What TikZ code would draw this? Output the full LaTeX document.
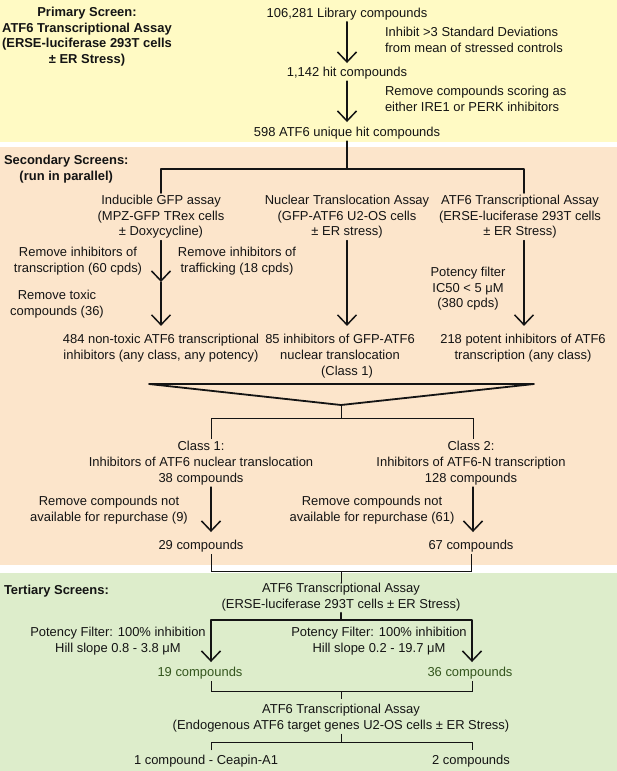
\documentclass[tikz,border=0pt]{standalone}
\usepackage{fontspec}
\setmainfont{Liberation Sans}
\usetikzlibrary{arrows.meta}
\definecolor{bgyellow}{RGB}{255,250,196}
\definecolor{bgpeach}{RGB}{252,229,203}
\definecolor{bggreen}{RGB}{221,237,203}
\definecolor{txtgreen}{RGB}{52,86,30}
\definecolor{ink}{RGB}{20,20,20}
\begin{document}
\begin{tikzpicture}[x=1bp,y=-1bp,
  txt/.style={inner sep=0pt, outer sep=0pt, align=center, text=ink,
    font=\fontsize{13}{15.8}\selectfont,
    execute at begin node=\strut, execute at end node=\strut},
  bold/.style={txt, font=\fontsize{13}{15.8}\selectfont\bfseries},
  ln/.style={draw=ink, line width=1.5bp, line cap=round, line join=round},
  thinln/.style={draw=ink, line width=1bp},
  hair/.style={draw=ink, line width=0.8bp},
  arr/.style={ln, -{Straight Barb[length=10bp,width=19bp]}},
]
\fill[white] (0,0) rectangle (617,771);
\useasboundingbox (0,0) rectangle (617,771);
\fill[bgyellow] (0,0) rectangle (617,142);
\fill[bgpeach] (0,147) rectangle (617,565);
\fill[bggreen] (0,572.5) rectangle (617,771);

% ---------- primary ----------
\node[bold] (prim) at (87,37.7) {Primary Screen:\\ATF6 Transcriptional Assay\\(ERSE-luciferase 293T cells\\± ER Stress)};
\node[txt] (lib) at (347,14) {106,281 Library compounds};
\node[txt, align=left, anchor=west] (n1) at (385,42.2) {Inhibit >3 Standard Deviations\\from mean of stressed controls};
\node[txt] (hit) at (347,73.3) {1,142 hit compounds};
\node[txt, align=left, anchor=west] (n2) at (385,101.3) {Remove compounds scoring as\\either IRE1 or PERK inhibitors};
\node[txt] (uniq) at (347,133.3) {598 ATF6 unique hit compounds};
\draw[arr, shorten >=2.4bp] (lib) -- (hit);
\draw[arr, shorten >=3.4bp] (hit) -- (uniq);

% ---------- secondary ----------
\node[bold, anchor=west] (sec) at (4,170.3) {Secondary Screens:\\(run in parallel)};
\coordinate (tb) at (347,169);
\coordinate (colA) at (161,169);
\coordinate (colC) at (524,169);
\draw[ln] (uniq) -- (tb);
\node[txt] (h1) at (161,217.8) {Inducible GFP assay\\(MPZ-GFP TRex cells\\± Doxycycline)};
\node[txt] (h2) at (347,217.8) {Nuclear Translocation Assay\\(GFP-ATF6 U2-OS cells\\± ER stress)};
\node[txt] (h3) at (520,217.8) {ATF6 Transcriptional Assay\\(ERSE-luciferase 293T cells\\± ER Stress)};
\draw[ln, shorten <=2bp, shorten >=2bp] (h1.north) -- (colA) -- (colC) -- (h3.north -| colC);

\node[txt] (lab1) at (78,261.8) {Remove inhibitors of\\transcription (60 cpds)};
\node[txt] (lab2) at (237,261.8) {Remove inhibitors of\\trafficking (18 cpds)};
\node[txt] (lab3) at (57,304.8) {Remove toxic\\compounds (36)};
\node[txt] (lab4) at (468,289.8) {Potency filter\\IC50 < 5 μM\\(380 cpds)};

\node[txt] (r1) at (161,348.8) {484 non-toxic ATF6 transcriptional\\inhibitors (any class, any potency)};
\node[txt] (r2) at (340,357.3) {85 inhibitors of GFP-ATF6\\nuclear translocation\\\hspace*{14bp}(Class 1)};
\node[txt] (r3) at (523,348.8) {218 potent inhibitors of ATF6\\transcription (any class)};

\coordinate (mid1) at (161,282);
\draw[arr] (h1.south) -- (mid1);
\draw[arr, shorten >=8bp] (mid1) -- (r1.north);
\draw[arr, shorten >=8.6bp] (h2.south) -- (h2.south |- r2.north);
\draw[arr, shorten >=8bp] (h3.south -| colC) -- (r3.north -| colC);

% funnel
\coordinate (tL) at (149,384);
\coordinate (tR) at (534,384);
\coordinate (tA) at (341,405);
\draw[ln, line width=1.8bp] (tL) -- (tR) -- (tA) -- cycle;

\coordinate (bl) at (211,418);
\coordinate (br) at (473,418);
\coordinate (bm) at (341,418);
\draw[thinln] (tA) -- (bm);
\node[txt] (c1) at (201,464.3) {Class 1:\\Inhibitors of ATF6 nuclear translocation\\38 compounds};
\node[txt] (c2) at (471,464.3) {Class 2:\\Inhibitors of ATF6-N transcription\\128 compounds};
\draw[thinln, shorten <=2.5bp, shorten >=2.5bp] (c1.north -| bl) -- (bl) -- (br) -- (c2.north -| br);

\node[txt] (lab5) at (109,510.8) {Remove compounds not\\available for repurchase (9)};
\node[txt] (lab6) at (372,510.8) {Remove compounds not\\available for repurchase (61)};
\node[txt] (d1) at (201,546.3) {29 compounds};
\node[txt] (d2) at (471,546.3) {67 compounds};
\draw[arr, shorten >=6.4bp] (c1.south -| bl) -- (d1.north -| bl);
\draw[arr, shorten >=6.4bp] (c2.south -| br) -- (d2.north -| br);

\coordinate (k1) at (211,571);
\coordinate (k2) at (471,571);
\coordinate (k3) at (341,571);
\draw[thinln] (d1.south -| k1) -- (k1) -- (k2) -- (d2.south -| k2);

% ---------- tertiary ----------
\node[bold, anchor=west] (ter) at (4,591.3) {Tertiary Screens:};
\node[txt] (t1) at (341,597.8) {ATF6 Transcriptional Assay\\(ERSE-luciferase 293T cells ± ER Stress)};
\draw[thinln] (k3) -- (t1.north);
\coordinate (q0) at (341,620);
\coordinate (qL) at (211,620);
\coordinate (qR) at (472,620);
\draw[ln] (t1.south) -- (q0);
\node[txt] (lab7) at (118,641.8) {Potency Filter: 100\% inhibition\\Hill slope 0.8 - 3.8 μM};
\node[txt] (lab8) at (379,641.8) {Potency Filter: 100\% inhibition\\Hill slope 0.2 - 19.7 μM};
\node[txt, text=txtgreen] (e1) at (200,673.3) {19 compounds};
\node[txt, text=txtgreen] (e2) at (470,673.3) {36 compounds};
\draw[arr, shorten >=3.4bp] (q0) -| (e1.north -| qL);
\draw[arr, shorten >=3.4bp] (q0) -| (e2.north -| qR);

\coordinate (uL) at (211,691);
\coordinate (uR) at (472,691);
\coordinate (u0) at (341,691);
\draw[hair] (e1.south -| uL) -- (uL) -- (uR) -- (e2.south -| uR);
\node[txt] (t2) at (341,718.8) {ATF6 Transcriptional Assay\\(Endogenous ATF6 target genes U2-OS cells ± ER Stress)};
\draw[hair, shorten >=5bp] (u0) -- (t2.north);
\coordinate (vL) at (211,742);
\coordinate (vR) at (472,742);
\coordinate (v0) at (341,742);
\draw[hair] (t2.south) -- (v0);
\node[txt] (f1) at (206,761.3) {1 compound - Ceapin-A1};
\node[txt] (f2) at (471,761.3) {2 compounds};
\draw[hair, shorten <=3bp, shorten >=3bp] (f1.north -| vL) -- (vL) -- (vR) -- (f2.north -| vR);
\end{tikzpicture}
\end{document}
